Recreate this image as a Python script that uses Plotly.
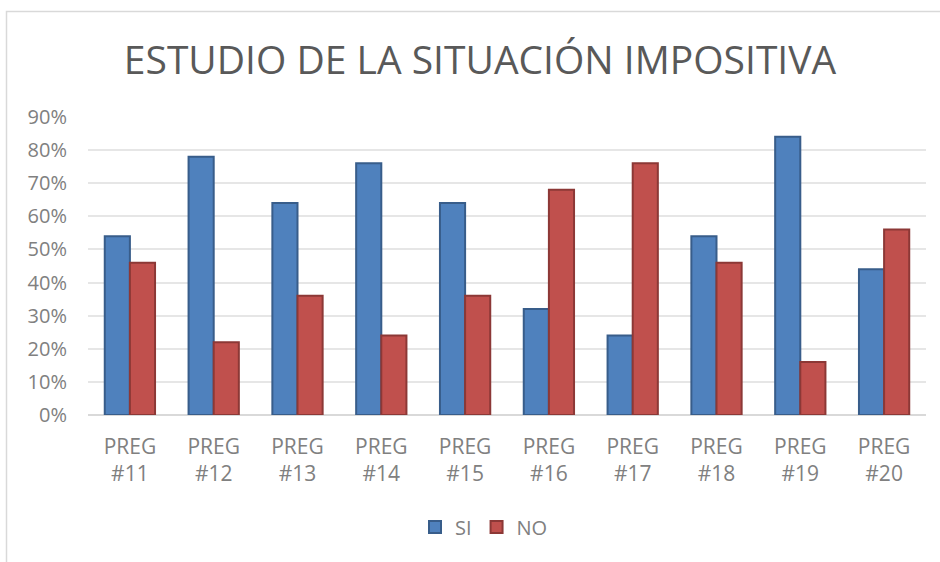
import plotly.graph_objects as go

categories = ["PREG<br>#11", "PREG<br>#12", "PREG<br>#13", "PREG<br>#14", "PREG<br>#15",
              "PREG<br>#16", "PREG<br>#17", "PREG<br>#18", "PREG<br>#19", "PREG<br>#20"]
si_values = [0.54, 0.78, 0.64, 0.76, 0.64, 0.32, 0.24, 0.54, 0.84, 0.44]
no_values = [0.46, 0.22, 0.36, 0.24, 0.36, 0.68, 0.76, 0.46, 0.16, 0.56]
y_ticks = [0, 0.1, 0.2, 0.3, 0.4, 0.5, 0.6, 0.7, 0.8, 0.9]
y_tick_labels = ["0%", "10%", "20%", "30%", "40%", "50%", "60%", "70%", "80%", "90%"]

W, H = 940, 562
L, R, T, B = 88, 14, 117, 147
pw, ph = W - L - R, H - T - B

fig = go.Figure()
fig.add_trace(go.Bar(name="SI", x=categories, y=si_values,
                     marker=dict(color="#4F81BD", line=dict(color="#385D8A", width=2))))
fig.add_trace(go.Bar(name="NO", x=categories, y=no_values,
                     marker=dict(color="#C0504D", line=dict(color="#8C3836", width=2))))

def px_x(x):
    return (x - L) / pw

def px_y(y):
    return (H - B - y) / ph

fig.update_layout(
    width=W, height=H,
    margin=dict(l=L, r=R, t=T, b=B),
    paper_bgcolor="white", plot_bgcolor="white",
    barmode="group", bargap=0.4, bargroupgap=0,
    font=dict(family="Open Sans", color="#808080"),
    title=dict(text="ESTUDIO DE LA SITUACIÓN IMPOSITIVA",
               x=480 / W, xref="container", xanchor="center",
               y=1 - 60 / H, yref="container", yanchor="middle",
               font=dict(family="Open Sans", size=39, color="#595959")),
    xaxis=dict(showgrid=False, showline=False, ticks="", zeroline=False,
               ticklabelstandoff=17,
               tickfont=dict(size=21, color="#808080")),
    yaxis=dict(range=[0, 0.9], tickvals=y_ticks, ticktext=y_tick_labels,
               showgrid=True, gridcolor="#E6E6E6", gridwidth=1.5,
               zeroline=True, zerolinecolor="#D9D9D9", zerolinewidth=1.5,
               showline=False, ticks="", ticklabelstandoff=20,
               tickfont=dict(size=20, color="#808080")),
    legend=dict(orientation="h", x=px_x(484), xanchor="center",
                y=px_y(527), yanchor="middle",
                font=dict(size=20, color="#808080"),
                itemwidth=30, traceorder="normal"),
    shapes=[dict(type="rect", xref="paper", yref="paper",
                 x0=px_x(6.5), x1=px_x(980), y0=px_y(620), y1=px_y(11.5),
                 line=dict(color="#D9D9D9", width=1.5), fillcolor="rgba(0,0,0,0)",
                 layer="below")],
)

fig.write_html("out.html", config={"displayModeBar": False},
               post_script="document.body.style.margin='0';")
